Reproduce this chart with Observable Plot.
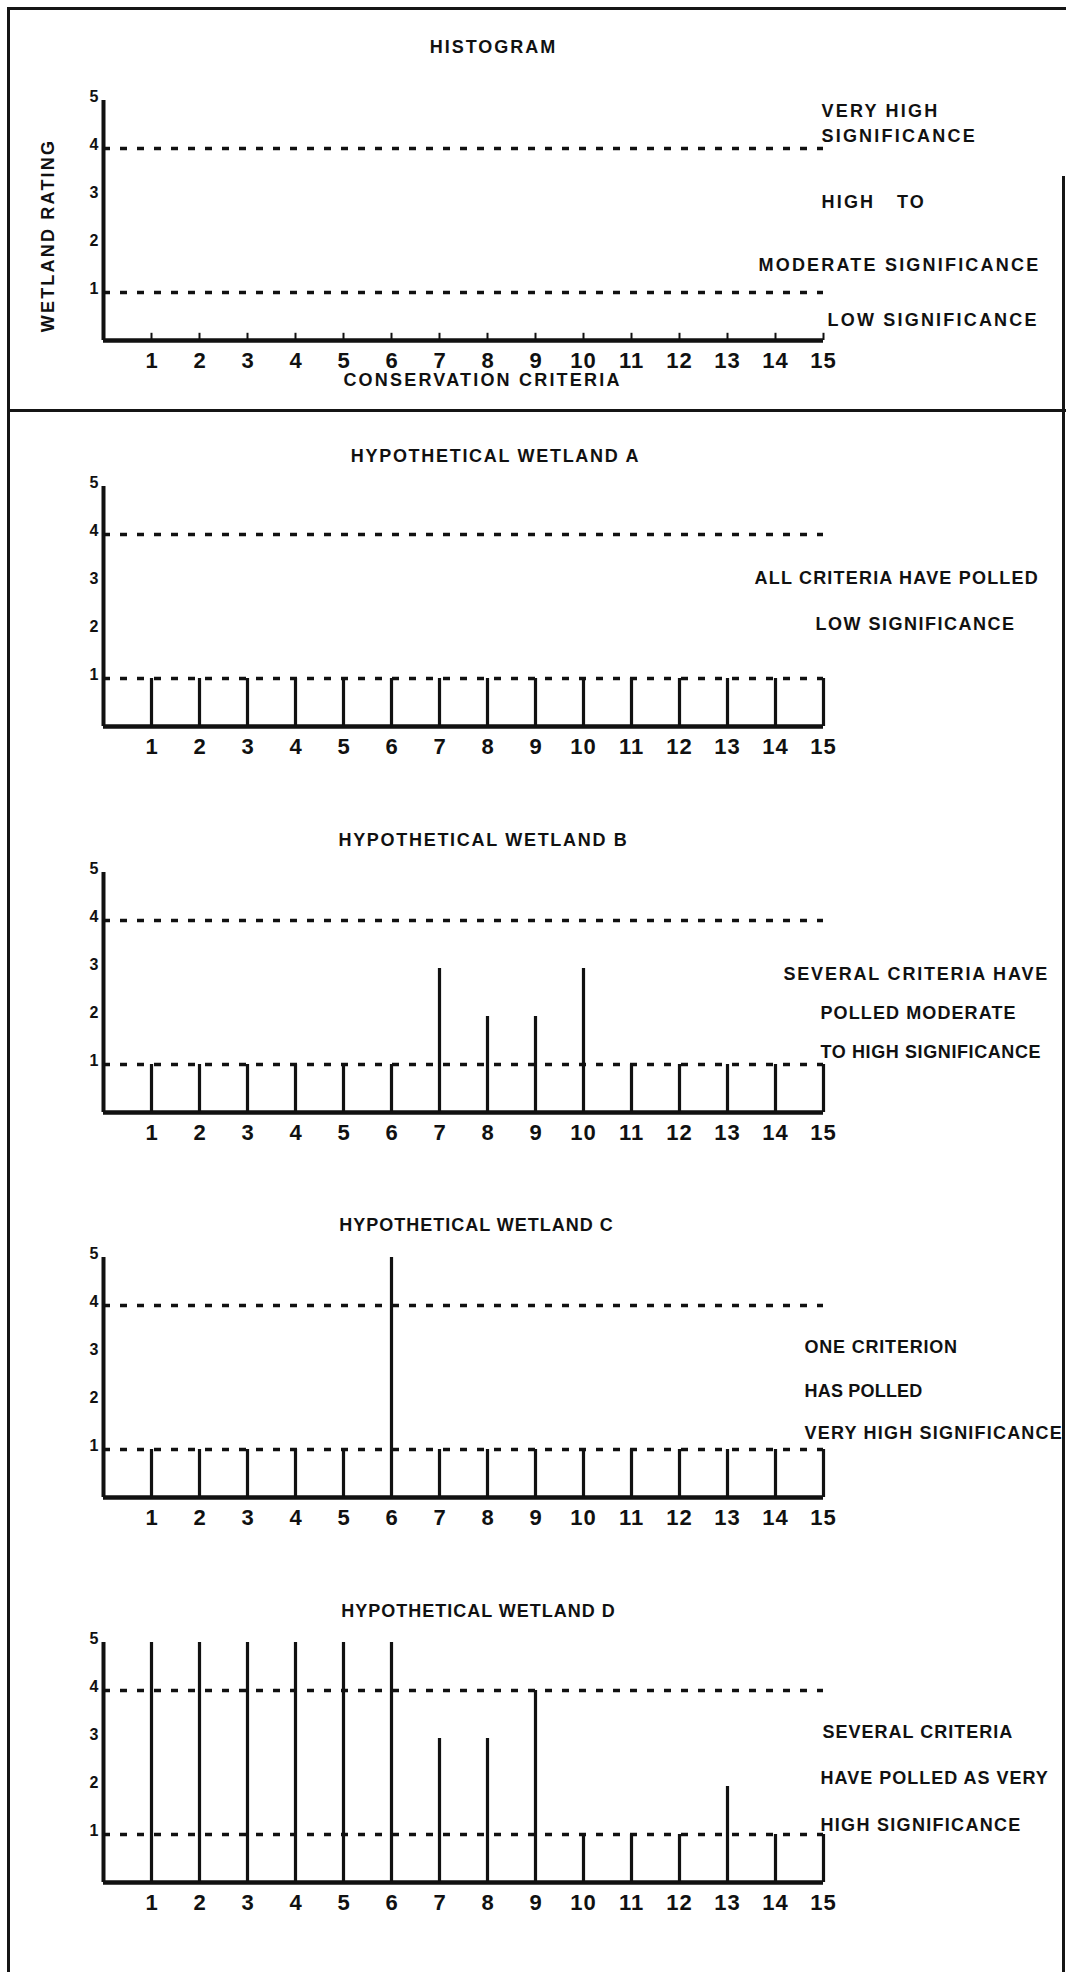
<!DOCTYPE html>
<html>
<head>
<meta charset="utf-8">
<script src="https://cdn.jsdelivr.net/npm/d3@7"></script>
<script src="https://cdn.jsdelivr.net/npm/@observablehq/plot@0.6"></script>
<style>
  body { margin: 0; background: #fff; }
  #page { position: relative; width: 1066px; height: 1972px; overflow: hidden; background: #fff; }
  .line { position: absolute; background: #151515; }
  .panel { position: absolute; left: 0; }
  .panel svg text { font-family: "Liberation Sans", Arial, sans-serif; font-weight: bold; white-space: pre; fill: #111; }
</style>
</head>
<body>
<div id="page">
  <div class="line" style="left:7px;top:7px;width:1059px;height:2.5px;"></div>
  <div class="line" style="left:7px;top:7px;width:2.5px;height:1972px;"></div>
  <div class="line" style="left:1062px;top:176px;width:2.5px;height:1800px;"></div>
  <div class="line" style="left:7px;top:409px;width:1059px;height:3px;"></div>
</div>
<script>
// ---- data ----
const criteria = [1, 2, 3, 4, 5, 6, 7, 8, 9, 10, 11, 12, 13, 14, 15];
const ratingTicks = [1, 2, 3, 4, 5];
const thresholds = [1, 4];

const wetlandA = [1, 1, 1, 1, 1, 1, 1, 1, 1, 1, 1, 1, 1, 1, 1];
const wetlandB = [1, 1, 1, 1, 1, 1, 3, 2, 2, 3, 1, 1, 1, 1, 1];
const wetlandC = [1, 1, 1, 1, 1, 5, 1, 1, 1, 1, 1, 1, 1, 1, 1];
const wetlandD = [5, 5, 5, 5, 5, 5, 3, 3, 4, 1, 1, 1, 2, 1, 1];

const histTitle = "HISTOGRAM";
const yAxisTitle = "WETLAND RATING";
const xAxisTitle = "CONSERVATION CRITERIA";
const histNotes = ["VERY HIGH", "SIGNIFICANCE", "HIGH   TO", "MODERATE SIGNIFICANCE", "LOW SIGNIFICANCE"];

const titleA = "HYPOTHETICAL WETLAND A";
const titleB = "HYPOTHETICAL WETLAND B";
const titleC = "HYPOTHETICAL WETLAND C";
const titleD = "HYPOTHETICAL WETLAND D";
const notesA = ["ALL CRITERIA HAVE POLLED", "LOW SIGNIFICANCE"];
const notesB = ["SEVERAL CRITERIA HAVE", "POLLED MODERATE", "TO HIGH SIGNIFICANCE"];
const notesC = ["ONE CRITERION", "HAS POLLED", "VERY HIGH SIGNIFICANCE"];
const notesD = ["SEVERAL CRITERIA", "HAVE POLLED AS VERY", "HIGH SIGNIFICANCE"];

// ---- layout (pixels) ----
const W = 1066, H = 386, ML = 103, MR = 243, MT = 100, MB = 46;
const xPix = d3.scaleLinear([0, 15], [ML, W - MR]);
const yPix = d3.scaleLinear([0, 5], [H - MB, MT]);

function panel({top, values, title, titleDx, titleY, notes, noteX, noteY, hist, noteSpacing, titleSpacing}) {
  const bars = values ? criteria.map((c, i) => ({c, v: values[i]})) : [];
  const noteRows = notes.map((t, i) => ({t, x: xPix.invert(noteX[i]), y: yPix.invert(noteY[i])}));
  const marks = [
    // dotted significance thresholds
    Plot.ruleY(thresholds, {x1: 0, x2: 15, stroke: "#111", strokeWidth: 3.5, strokeDasharray: "7,10"}),
    // bars
    Plot.ruleX(bars, {x: "c", y1: 0, y2: "v", stroke: "#111", strokeWidth: 3.2}),
    // y axis line and baseline
    Plot.ruleX([0], {y1: 0, y2: 5, stroke: "#111", strokeWidth: 4}),
    Plot.ruleY([0], {x1: 0, x2: 15, stroke: "#111", strokeWidth: 4.5}),
    // tick labels
    Plot.text(ratingTicks, {x: 0, y: d => d, text: d => String(d), dx: -5, dy: -4, textAnchor: "end",
      lineAnchor: "middle", fontSize: 16}),
    Plot.text(criteria, {x: d => d, y: 0, text: d => String(d), dy: 20, textAnchor: "middle",
      lineAnchor: "middle", fontSize: 22}),
    Plot.text([title], {frameAnchor: "top", dx: titleDx, dy: titleY - MT, textAnchor: "middle",
      lineAnchor: "middle", fontSize: 18}),
    Plot.text(noteRows, {x: "x", y: "y", text: "t", textAnchor: "start", lineAnchor: "middle", fontSize: 18})
  ];
  if (hist) {
    marks.push(
      Plot.ruleX(criteria, {x: d => d, y1: 0, y2: 0.15, stroke: "#111", strokeWidth: 2}),
      Plot.text([yAxisTitle], {frameAnchor: "left", rotate: -90, dx: -55, dy: 15, textAnchor: "middle",
        lineAnchor: "middle", fontSize: 18}),
      Plot.text([xAxisTitle], {frameAnchor: "bottom", dx: 19, dy: 40, textAnchor: "middle",
        lineAnchor: "middle", fontSize: 18})
    );
  }
  const svg = Plot.plot({
    width: W, height: H,
    marginLeft: ML, marginRight: MR, marginTop: MT, marginBottom: MB,
    x: {domain: [0, 15], axis: null},
    y: {domain: [0, 5], axis: null},
    style: {background: "transparent", color: "#111", overflow: "visible"},
    marks
  });
  // letter spacing, matched by content
  d3.select(svg).selectAll("text").each(function () {
    const t = this.textContent;
    let s = null;
    const ni = notes.indexOf(t);
    if (ni >= 0) s = Array.isArray(noteSpacing) ? noteSpacing[ni] : noteSpacing;
    else if (t === title) s = titleSpacing;
    else if (t === yAxisTitle || t === xAxisTitle) s = 2.2;
    else if (/^\d+$/.test(t) && t.length > 1) s = 1;
    if (s != null) this.style.letterSpacing = s + "px";
  });
  const div = document.createElement("div");
  div.className = "panel";
  div.style.top = top + "px";
  div.appendChild(svg);
  const page = document.getElementById("page");
  page.insertBefore(div, page.firstChild);
}

panel({top: 0, values: null, title: histTitle, titleDx: 30, titleY: 47, hist: true,
  notes: histNotes, noteX: [821, 821, 821, 758, 827], noteY: [111, 136, 202, 265, 320],
  noteSpacing: 2.2, titleSpacing: 2});
panel({top: 386, values: wetlandA, title: titleA, titleDx: 32, titleY: 70,
  notes: notesA, noteX: [754, 815], noteY: [192, 238], noteSpacing: [1.2, 1.5], titleSpacing: 1.7});
panel({top: 772, values: wetlandB, title: titleB, titleDx: 20, titleY: 68,
  notes: notesB, noteX: [783, 820, 820], noteY: [202, 241, 280], noteSpacing: [1.8, 1.1, 0.6], titleSpacing: 1.7});
panel({top: 1157, values: wetlandC, title: titleC, titleDx: 13, titleY: 68,
  notes: notesC, noteX: [804, 804, 804], noteY: [190, 234, 276], noteSpacing: [0.8, 0.2, 1.2], titleSpacing: 1.0});
panel({top: 1542, values: wetlandD, title: titleD, titleDx: 15, titleY: 69,
  notes: notesD, noteX: [822, 820, 820], noteY: [190, 236, 283], noteSpacing: [1.0, 1.0, 1.3], titleSpacing: 1.0});
</script>
</body>
</html>
